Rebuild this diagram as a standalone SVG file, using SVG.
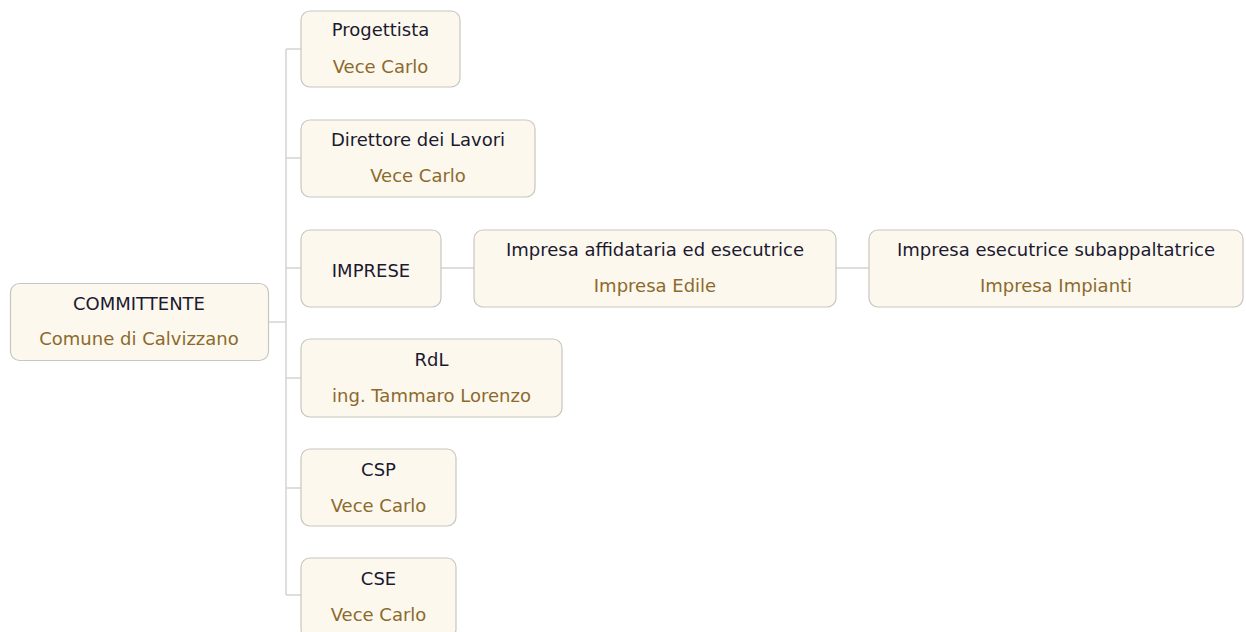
<svg xmlns="http://www.w3.org/2000/svg" width="1246" height="632" viewBox="0 0 1246 632">
<style>
.box{fill:#fdf8ee;stroke:#c9c6c0;stroke-width:1.2}
.t{font-family:"DejaVu Sans",sans-serif;font-size:18px;fill:#1a1a30;text-anchor:middle}
.s{font-family:"DejaVu Sans",sans-serif;font-size:18px;fill:#8c6a2c;text-anchor:middle}
.c{fill:none;stroke:#d4d4d4;stroke-width:1.5}
</style>
<rect width="1246" height="632" fill="#ffffff"/>
<g id="connectors">
<path class="c" d="M268 322H286M286 49V595M286 49H301M286 158H301M286 268H301M286 378H301M286 488H301M286 595H301M441 268H474M836 268H869"/>
</g>
<g id="committente">
<rect class="box" x="10.5" y="283.5" width="258" height="77" rx="9"/>
<text class="t" x="139" y="310">COMMITTENTE</text>
<text class="s" x="139" y="345">Comune di Calvizzano</text>
</g>
<g id="progettista">
<rect class="box" x="301" y="11" width="159" height="76" rx="9"/>
<text class="t" x="380.5" y="36">Progettista</text>
<text class="s" x="380.5" y="73">Vece Carlo</text>
</g>
<g id="direttore">
<rect class="box" x="301" y="120" width="234" height="77" rx="9"/>
<text class="t" x="418" y="146">Direttore dei Lavori</text>
<text class="s" x="418" y="182">Vece Carlo</text>
</g>
<g id="imprese">
<rect class="box" x="301" y="230" width="140" height="77" rx="9"/>
<text class="t" x="371" y="277">IMPRESE</text>
</g>
<g id="affidataria">
<rect class="box" x="474" y="230" width="362" height="77" rx="9"/>
<text class="t" x="655" y="256">Impresa affidataria ed esecutrice</text>
<text class="s" x="655" y="292">Impresa Edile</text>
</g>
<g id="esecutrice">
<rect class="box" x="869" y="230" width="374" height="77" rx="9"/>
<text class="t" x="1056" y="256">Impresa esecutrice subappaltatrice</text>
<text class="s" x="1056" y="292">Impresa Impianti</text>
</g>
<g id="rdl">
<rect class="box" x="301" y="339" width="261" height="78" rx="9"/>
<text class="t" x="431.5" y="366">RdL</text>
<text class="s" x="431.5" y="402">ing. Tammaro Lorenzo</text>
</g>
<g id="csp">
<rect class="box" x="301" y="449" width="155" height="77" rx="9"/>
<text class="t" x="378.5" y="476">CSP</text>
<text class="s" x="378.5" y="512">Vece Carlo</text>
</g>
<g id="cse">
<rect class="box" x="301" y="558" width="155" height="80" rx="9"/>
<text class="t" x="378.5" y="585">CSE</text>
<text class="s" x="378.5" y="621">Vece Carlo</text>
</g>
</svg>
